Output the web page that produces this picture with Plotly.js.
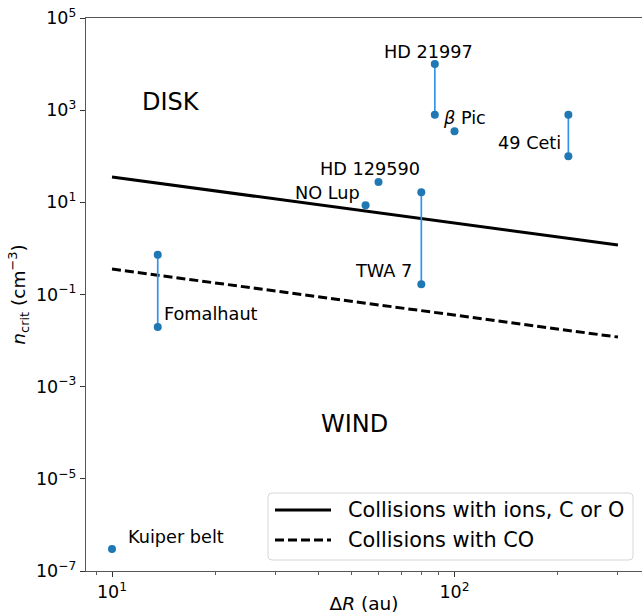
<!DOCTYPE html>
<html>
<head>
<meta charset="utf-8">
<script src="https://cdn.plot.ly/plotly-3.0.1.min.js"></script>
<style>html,body{margin:0;padding:0;background:#fff;}#chart{width:642px;height:614px;}</style>
</head>
<body>
<div id="chart"></div>
<script>
// ---- data ----
const objectNames = ['HD 21997', 'β Pic', '49 Ceti', 'HD 129590', 'NO Lup', 'TWA 7', 'Fomalhaut', 'Kuiper belt'];
const deltaR      = [87.6, 100, 215, 60, 55, 80, 13.6, 10];
const nLow        = [800, 348, 100, 27.7, 8.6, 0.166, 0.0198, 3e-7];
const nHigh       = [1e4, null, 800, null, null, 16.5, 0.73, null];

const curveX      = [10, 300];
const ionsCurve   = [35.5, 1.18];
const coCurve     = [0.357, 0.0119];
const seriesNames = ['Collisions with ions, C or O', 'Collisions with CO'];

const yTickVals   = [1e-7, 1e-5, 1e-3, 1e-1, 1e1, 1e3, 1e5];
const yTickText   = ['10<sup>−7</sup>', '10<sup>−5</sup>', '10<sup>−3</sup>', '10<sup>−1</sup>', '10<sup>1</sup>', '10<sup>3</sup>', '10<sup>5</sup>'];
const xTickVals   = [10, 100];
const xTickText   = ['10<sup>1</sup>', '10<sup>2</sup>'];
const xMinorVals  = [9, 20, 30, 40, 50, 60, 70, 80, 90, 200, 300];

// ---- geometry (pixels in the figure) ----
const W = 642, H = 614, mL = 86, mR = 0, mT = 18, mB = 43;
const pw = W - mL - mR, ph = H - mT - mB;
const px = x => (x - mL) / pw;
const py = y => (H - mB - y) / ph;

const labelSpecs = [
  {t: 'HD 21997', x: 428, y: 52, a: 'center'},
  {t: '<i>β</i> Pic', x: 441, y: 118, a: 'left'},
  {t: '49 Ceti', x: 563, y: 143, a: 'right'},
  {t: 'HD 129590', x: 422, y: 169, a: 'right'},
  {t: 'NO Lup', x: 362, y: 192.5, a: 'right'},
  {t: 'TWA 7', x: 414, y: 271, a: 'right'},
  {t: 'Fomalhaut', x: 162, y: 314, a: 'left'},
  {t: 'Kuiper belt', x: 126, y: 536.5, a: 'left'}
];

// ---- traces ----
const segX = [], segY = [];
for (let i = 0; i < deltaR.length; i++) {
  if (nHigh[i] !== null) {
    segX.push(deltaR[i], deltaR[i], null);
    segY.push(nLow[i], nHigh[i], null);
  }
}
const ptX = [], ptY = [];
for (let i = 0; i < deltaR.length; i++) {
  ptX.push(deltaR[i]); ptY.push(nLow[i]);
  if (nHigh[i] !== null) { ptX.push(deltaR[i]); ptY.push(nHigh[i]); }
}

const traces = [
  {x: curveX, y: ionsCurve, mode: 'lines', name: seriesNames[0],
   line: {color: '#000', width: 3}},
  {x: curveX, y: coCurve, mode: 'lines', name: seriesNames[1],
   line: {color: '#000', width: 3, dash: '9px,4px'}},
  {x: segX, y: segY, mode: 'lines', hoverinfo: 'skip',
   line: {color: '#3392ea', width: 1.7}},
  {x: ptX, y: ptY, mode: 'markers',
   marker: {color: '#1f77b4', size: 8}, cliponaxis: false}
];

const annotations = labelSpecs.map(s => ({
  text: s.t, xref: 'paper', yref: 'paper', x: px(s.x), y: py(s.y),
  xanchor: s.a, yanchor: 'middle', showarrow: false,
  font: {size: 17.7, color: '#000'}
}));
annotations.push({text: 'DISK', xref: 'paper', yref: 'paper', x: px(140), y: py(101.5),
  xanchor: 'left', yanchor: 'middle', showarrow: false, font: {size: 24, color: '#000'}});
annotations.push({text: 'WIND', xref: 'paper', yref: 'paper', x: px(319), y: py(424),
  xanchor: 'left', yanchor: 'middle', showarrow: false, font: {size: 24, color: '#000'}});

// ---- custom legend (box, samples, texts) ----
const lg = {x0: 268, x1: 633, y0: 493, y1: 560, r: 4};
function roundedRectPath(b) {
  const X = v => px(v), Y = v => py(v);
  const rx = b.r / pw, ry = b.r / ph;
  const L = X(b.x0), R = X(b.x1), T = Y(b.y0), B = Y(b.y1);
  return `M${L + rx},${T} L${R - rx},${T} Q${R},${T} ${R},${T - ry} L${R},${B + ry} Q${R},${B} ${R - rx},${B} ` +
         `L${L + rx},${B} Q${L},${B} ${L},${B + ry} L${L},${T - ry} Q${L},${T} ${L + rx},${T} Z`;
}
const shapes = [
  {type: 'path', xref: 'paper', yref: 'paper', path: roundedRectPath(lg),
   fillcolor: 'rgba(255,255,255,0.85)', line: {color: '#d6d6d6', width: 1}},
  {type: 'line', xref: 'paper', yref: 'paper', x0: px(275), x1: px(331), y0: py(510), y1: py(510),
   line: {color: '#000', width: 3}},
  {type: 'line', xref: 'paper', yref: 'paper', x0: px(275), x1: px(331), y0: py(540), y1: py(540),
   line: {color: '#000', width: 3, dash: '9px,4px'}}
];
annotations.push({text: seriesNames[0], xref: 'paper', yref: 'paper', x: px(346), y: py(510),
  xanchor: 'left', yanchor: 'middle', showarrow: false, font: {size: 20.8, color: '#000'}});
annotations.push({text: seriesNames[1], xref: 'paper', yref: 'paper', x: px(346), y: py(540),
  xanchor: 'left', yanchor: 'middle', showarrow: false, font: {size: 20.8, color: '#000'}});

const layout = {
  width: W, height: H,
  margin: {l: mL, r: mR, t: mT, b: mB, pad: 0},
  paper_bgcolor: '#fff', plot_bgcolor: '#fff',
  font: {family: 'DejaVu Sans, sans-serif', color: '#000', size: 17},
  showlegend: false,
  xaxis: {
    type: 'log', range: [0.9241, 2.5474],
    showgrid: false, zeroline: false,
    showline: true, linecolor: '#555', linewidth: 1.2, mirror: true,
    ticks: 'outside', ticklen: 5, tickwidth: 1, tickcolor: '#333',
    tickmode: 'array', tickvals: xTickVals, ticktext: xTickText,
    tickfont: {size: 17.5},
    minor: {tickmode: 'array', tickvals: xMinorVals, ticks: 'outside', ticklen: 3, tickwidth: 0.8, tickcolor: '#333', showgrid: false},
    title: {text: 'Δ<i>R</i> (au)', font: {size: 18.5}, standoff: 5}
  },
  yaxis: {
    type: 'log', range: [-7, 5],
    showgrid: false, zeroline: false,
    showline: true, linecolor: '#555', linewidth: 1.2, mirror: false,
    ticks: 'outside', ticklen: 5, tickwidth: 1, tickcolor: '#333',
    tickmode: 'array', tickvals: yTickVals, ticktext: yTickText,
    tickfont: {size: 17.5},
    title: {text: '<i>n</i><sub>crit</sub> (cm<sup>−3</sup>)', font: {size: 18.5}, standoff: 5}
  },
  shapes: shapes,
  annotations: annotations
};

Plotly.newPlot('chart', traces, layout, {staticPlot: true, displayModeBar: false});
</script>
</body>
</html>
